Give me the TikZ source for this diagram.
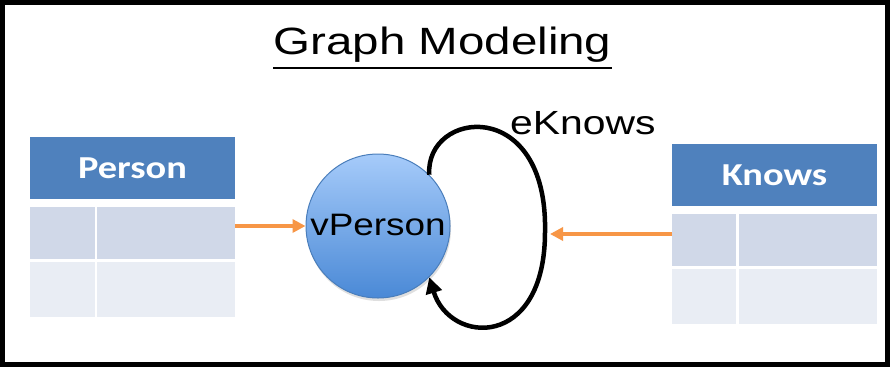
\documentclass[tikz,border=0pt]{standalone}
\usepackage{fontspec}
\setmainfont{Liberation Sans}
\newfontfamily\calibri{Carlito}
\usetikzlibrary{arrows.meta,shadows}

\definecolor{hdrblue}{HTML}{4F81BD}
\definecolor{rowdark}{HTML}{D0D8E8}
\definecolor{rowlight}{HTML}{E9EDF4}
\definecolor{accent}{HTML}{F79646}
\definecolor{balltop}{HTML}{A6CBFA}
\definecolor{ballbot}{HTML}{4A89D6}
\definecolor{ballrim}{HTML}{4A7EBB}

\tikzset{
  cell/.style={rectangle, anchor=north west, inner sep=0pt, outer sep=0pt, draw=none},
  header/.style={cell, fill=hdrblue, text=white, font=\calibri\bfseries\fontsize{32}{36}\selectfont},
  darkrow/.style={cell, fill=rowdark},
  lightrow/.style={cell, fill=rowlight},
  feed/.style={draw=accent, line width=4pt, -{Triangle[length=13pt,width=13pt]}},
  selfloop/.style={draw=black, line width=4.5pt, -{Triangle[length=16pt,width=16pt]}},
  ball/.style={circle, minimum size=144pt, inner sep=0pt, draw=ballrim, line width=1pt,
    top color=balltop, bottom color=ballbot,
    drop shadow={opacity=0.25, shadow xshift=1pt, shadow yshift=-3pt}},
  label/.style={inner sep=0pt, anchor=base}
}

\begin{document}
\begin{tikzpicture}[x=1pt,y=-1pt]
  % canvas and frame
  \fill[white] (0,0) rectangle (890,367);
  \useasboundingbox (0,0) rectangle (890,367);
  \draw[line width=5pt] (2.5,2.5) rectangle (887.5,364.5);

  % title
  \node[label, font=\fontsize{38}{42}\selectfont] (title) at (442.5,54.3)
    {\scalebox{1.25}[1]{Graph Modeling}};
  \draw[line width=2pt] ([yshift=-13.7pt]title.base west) -- ([yshift=-13.7pt]title.base east);

  % Person table
  \node[header, minimum width=205pt, minimum height=62pt] (phead) at (30,137)
    {\scalebox{1.2}[1]{Person}};
  \node[darkrow,  minimum width=65pt,  minimum height=52pt] (p11) at (30,207) {};
  \node[darkrow,  minimum width=138pt, minimum height=52pt] (p12) at (97,207) {};
  \node[lightrow, minimum width=65pt,  minimum height=55pt] (p21) at (30,262) {};
  \node[lightrow, minimum width=138pt, minimum height=55pt] (p22) at (97,262) {};

  % Knows table
  \node[header, minimum width=205pt, minimum height=62pt] (khead) at (672,144)
    {\scalebox{1.2}[1]{Knows}};
  \node[darkrow,  minimum width=64pt,  minimum height=52pt] (k11) at (672,214) {};
  \node[darkrow,  minimum width=138pt, minimum height=52pt] (k12) at (739,214) {};
  \node[lightrow, minimum width=64pt,  minimum height=55pt] (k21) at (672,269) {};
  \node[lightrow, minimum width=138pt, minimum height=55pt] (k22) at (739,269) {};

  % vertex
  \node[ball] (vp) at (378,226) {};
  \node[label, font=\fontsize{31}{35}\selectfont] (vptext) at (378,235)
    {\scalebox{1.19}[1]{vPerson}};

  % self-loop edge and its label
  \coordinate (loopR) at (545,232);
  \draw[selfloop] (vp.45) .. controls (425,110) and (548,95) .. (loopR)
    .. controls (545,350) and (450,345) .. (vp.-45);
  \node[label, font=\fontsize{33.5}{38}\selectfont, anchor=base west] (ek) at (510,134.7)
    {\scalebox{1.22}[1]{eKnows}};

  % table-to-graph mappings
  \coordinate (loopIn) at (550,234);
  \draw[feed] (p12.east |- vp.west) -- (vp.west);
  \draw[feed] (k11.west |- loopIn) -- (loopIn);
\end{tikzpicture}
\end{document}
